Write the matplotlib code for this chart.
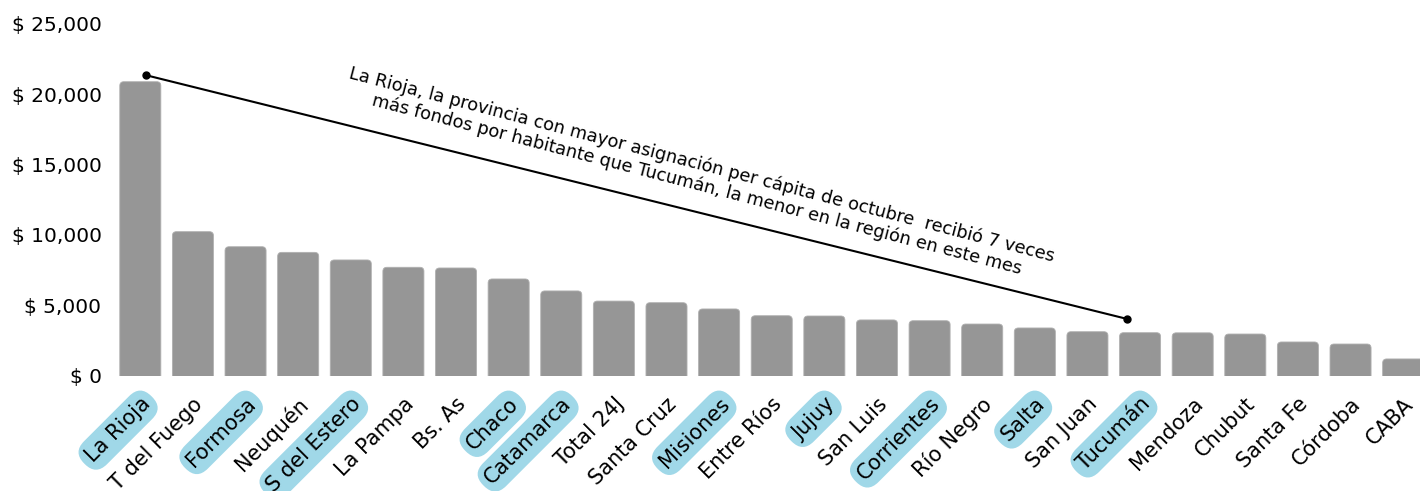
import matplotlib
matplotlib.use("Agg")
import matplotlib.pyplot as plt
from matplotlib.patches import FancyBboxPatch
from matplotlib.transforms import ScaledTranslation

provincias = ["La Rioja", "T del Fuego", "Formosa", "Neuquén", "S del Estero", "La Pampa",
              "Bs. As", "Chaco", "Catamarca", "Total 24J", "Santa Cruz", "Misiones",
              "Entre Ríos", "Jujuy", "San Luis", "Corrientes", "Río Negro", "Salta",
              "San Juan", "Tucumán", "Mendoza", "Chubut", "Santa Fe", "Córdoba", "CABA"]
valores = [20880, 10230, 9160, 8760, 8220, 7700, 7650, 6870, 6020, 5300, 5185, 4740,
           4260, 4240, 3960, 3905, 3670, 3390, 3125, 3055, 3045, 2960, 2395, 2250, 1190]
destacadas = ["La Rioja", "Formosa", "S del Estero", "Chaco", "Catamarca", "Misiones",
              "Jujuy", "Corrientes", "Salta", "Tucumán"]
yticks = [0, 5000, 10000, 15000, 20000, 25000]
nota = ("La Rioja, la provincia con mayor asignación per cápita de octubre  recibió 7 veces\n"
        "más fondos por habitante que Tucumán, la menor en la región en este mes")

W, H = 1420, 491
fig = plt.figure(figsize=(W / 100, H / 100), dpi=100)
ax = fig.add_axes([114 / W, 115.3 / H, (W - 114) / W, (467.3 - 115.3) / H])

BAR = "#969696"
x = list(range(len(provincias)))
bars = ax.bar(x, valores, width=0.78, color=BAR)
ax.set_xlim(-0.5, 24.32)
ax.set_ylim(0, 25000)

# rounded tops
px_x = (W - 114) / (24.32 + 0.5)
px_y = (467.3 - 115.3) / 25000
aspect = (1 / px_y) / (1 / px_x)
r = 4 / px_x
for b in bars:
    bx, by, bw, bh = b.get_x(), b.get_y(), b.get_width(), b.get_height()
    b.set_visible(False)
    p = FancyBboxPatch((bx, by - 600), bw, bh + 600,
                       boxstyle=f"round,pad=0,rounding_size={r}",
                       mutation_aspect=aspect, fc=BAR, ec="#b0b0b0", lw=0.6)
    ax.add_patch(p)

for s in ax.spines.values():
    s.set_visible(False)

ax.set_yticks(yticks)
ax.set_yticklabels([f"$ {v:,.0f}" for v in yticks], fontsize=14.5)
ax.tick_params(axis="y", length=0, pad=9)
ax.tick_params(axis="x", length=0, pad=16)
ax.set_xticks(x)
ax.set_xticklabels(provincias, rotation=45, ha="right", rotation_mode="anchor",
                   fontsize=15, va="center")
shift = ScaledTranslation(7 / 100, -3 / 100, fig.dpi_scale_trans)
for lab in ax.get_xticklabels():
    lab.set_transform(lab.get_transform() + shift)
    if lab.get_text() in destacadas:
        lab.set_bbox(dict(boxstyle="round,pad=0.3,rounding_size=0.75",
                          fc="#a0d8e8", ec="none"))

i_rioja = provincias.index("La Rioja")
i_tuc = provincias.index("Tucumán")
x0, y0 = i_rioja + 0.1, valores[i_rioja] + 470
x1, y1 = i_tuc - 0.24, valores[i_tuc] + 970
ax.plot([x0, x1], [y0, y1], color="black", lw=1.5, clip_on=False)
ax.plot([x0, x1], [y0, y1], "o", color="black", ms=5, clip_on=False)

ax.text(699 / W, 1 - 175 / H, nota, transform=fig.transFigure, rotation=-14.6,
        rotation_mode="anchor", ha="center", va="center", multialignment="center",
        fontsize=12.8, linespacing=1.15)

fig.savefig("out.png", dpi=100)
